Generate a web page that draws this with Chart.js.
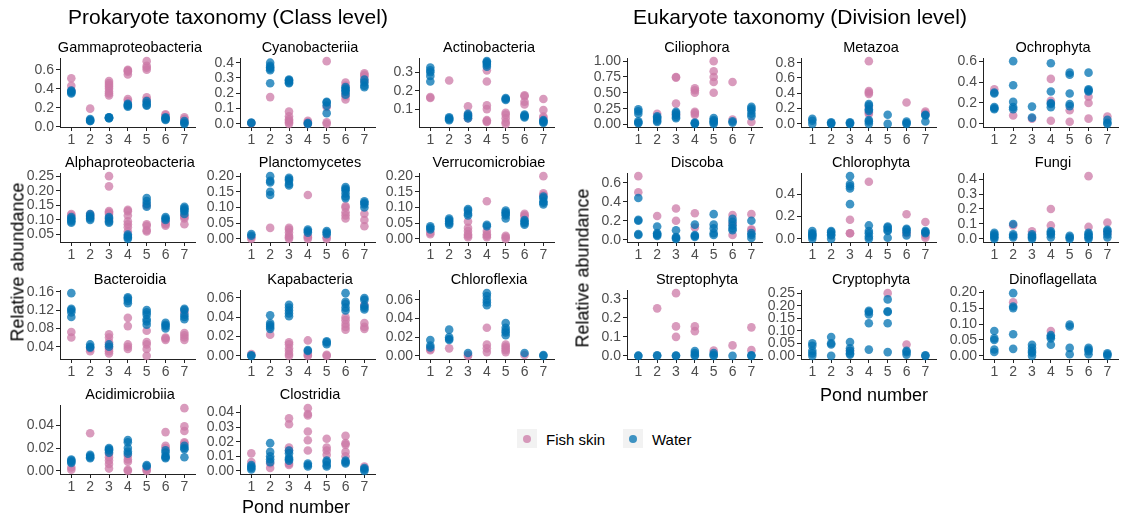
<!DOCTYPE html>
<html>
<head>
<meta charset="utf-8">
<script src="https://cdn.jsdelivr.net/npm/chart.js@4.4.1/dist/chart.umd.min.js"></script>
<style>
  body { margin: 0; background: #fff; width: 1123px; height: 518px; position: relative; overflow: hidden;
         font-family: 'Liberation Sans', Arial, sans-serif; }
  canvas { position: absolute; }
  .txt { position: absolute; white-space: nowrap; color: #000; transform: translate(-50%, -50%); }
  .key { position: absolute; width: 20px; height: 19px; background: #f2f2f2; }
  .key span { position: absolute; left: 6px; top: 6px; width: 8px; height: 8px; border-radius: 50%; }
</style>
</head>
<body>
<script>
const ponds = [1, 2, 3, 4, 5, 6, 7];

// ---- Prokaryotes (class level) ----
const gammaFish = [[0.51, 0.43, 0.38], [0.19], [0.48, 0.46, 0.44, 0.42, 0.40, 0.37, 0.35, 0.33], [0.60, 0.59, 0.58, 0.55, 0.29, 0.27], [0.69, 0.64, 0.62, 0.60, 0.31, 0.28], [0.13, 0.12], [0.10, 0.08, 0.05]];
const gammaWater = [[0.38, 0.37, 0.36, 0.35], [0.08, 0.07, 0.06, 0.06], [0.10, 0.09, 0.10, 0.09], [0.24, 0.22, 0.21, 0.23], [0.27, 0.25, 0.23, 0.22], [0.10, 0.09, 0.08, 0.07], [0.06, 0.04, 0.03]];
const gammaTicks = ['0.0', '0.2', '0.4', '0.6'];

const cyanoFish = [[0.005], [0.175], [0.08, 0.05, 0.03, 0.02, 0.01, 0.0], [0.02, 0.01, 0.0], [0.41, 0.11, 0.01, 0.0], [0.27, 0.25, 0.20, 0.18, 0.16], [0.33, 0.32, 0.31, 0.28]];
const cyanoWater = [[0.008, 0.006], [0.40, 0.38, 0.37, 0.36, 0.35, 0.265], [0.29, 0.285, 0.28, 0.27, 0.265], [0.005, 0.0], [0.145, 0.14, 0.12, 0.07], [0.24, 0.23, 0.22, 0.21, 0.19], [0.29, 0.27, 0.25, 0.24]];
const cyanoTicks = ['0.0', '0.1', '0.2', '0.3', '0.4'];

const actinoFish = [[0.165, 0.16], [0.255], [0.115, 0.07, 0.05], [0.31, 0.25, 0.12, 0.10, 0.04, 0.03, 0.035], [0.08, 0.07, 0.05, 0.03, 0.02], [0.175, 0.17, 0.14, 0.125], [0.155, 0.095, 0.06, 0.05]];
const actinoWater = [[0.325, 0.31, 0.30, 0.28, 0.25], [0.055, 0.05, 0.045, 0.04], [0.075, 0.065, 0.06, 0.05], [0.36, 0.355, 0.35, 0.34, 0.33], [0.16, 0.155, 0.15], [0.07, 0.065, 0.06, 0.055], [0.04, 0.035, 0.03, 0.025]];
const actinoTicks = ['0.1', '0.2', '0.3'];

const alphaFish = [[0.12, 0.115], [0.12, 0.11], [0.25, 0.215, 0.13, 0.125, 0.12, 0.10], [0.135, 0.13, 0.115, 0.095, 0.085, 0.075, 0.06], [0.15, 0.085, 0.08, 0.065, 0.06], [0.095, 0.09, 0.085, 0.08], [0.115, 0.11, 0.105, 0.085]];
const alphaWater = [[0.11, 0.105, 0.10, 0.095, 0.09], [0.12, 0.115, 0.11, 0.105, 0.10], [0.11, 0.105, 0.095, 0.09], [0.05, 0.045, 0.04, 0.035], [0.175, 0.165, 0.155, 0.145], [0.11, 0.105, 0.10], [0.145, 0.14, 0.135, 0.13, 0.12]];
const alphaTicks = ['0.05', '0.10', '0.15', '0.20', '0.25'];

const planctoFish = [[0.005, 0.0], [0.035], [0.035, 0.03, 0.02, 0.01, 0.005, 0.0], [0.14, 0.01, 0.005, 0.0], [0.005, 0.0], [0.105, 0.10, 0.085, 0.075, 0.065], [0.08, 0.06, 0.04]];
const planctoWater = [[0.015, 0.01], [0.20, 0.185, 0.18, 0.15, 0.14], [0.195, 0.19, 0.185, 0.175, 0.17], [0.03, 0.025, 0.02], [0.025, 0.02, 0.015], [0.165, 0.16, 0.155, 0.145, 0.135, 0.13], [0.12, 0.115, 0.11, 0.10]];
const planctoTicks = ['0.00', '0.05', '0.10', '0.15', '0.20'];

const verrucoFish = [[0.02, 0.015], [], [0.055, 0.035, 0.025, 0.015, 0.01, 0.005], [0.12, 0.025, 0.015, 0.01, 0.005], [0.01, 0.005, 0.0], [0.08, 0.075, 0.07], [0.20, 0.145, 0.14]];
const verrucoWater = [[0.04, 0.035, 0.03], [0.065, 0.06, 0.055, 0.05, 0.045], [0.095, 0.09, 0.08, 0.075], [0.045, 0.04], [0.09, 0.085, 0.08, 0.075, 0.065], [0.06, 0.055, 0.05, 0.045], [0.135, 0.13, 0.12, 0.115, 0.11]];
const verrucoTicks = ['0.00', '0.05', '0.10', '0.15', '0.20'];

const bacteroFish = [[0.072, 0.06], [0.035, 0.03], [0.067, 0.06, 0.05, 0.04, 0.035, 0.03, 0.025], [0.103, 0.085, 0.045, 0.04, 0.035], [0.075, 0.05, 0.045, 0.035, 0.02], [0.06, 0.058, 0.055], [0.115, 0.07, 0.065, 0.06, 0.055]];
const bacteroWater = [[0.157, 0.123, 0.12, 0.115, 0.105], [0.045, 0.04, 0.038], [0.045, 0.04], [0.148, 0.145, 0.14, 0.135], [0.12, 0.115, 0.11, 0.10, 0.095, 0.088], [0.092, 0.088, 0.085, 0.08], [0.123, 0.12, 0.11, 0.105, 0.10]];
const bacteroTicks = ['0.04', '0.08', '0.12', '0.16'];

const kapaFish = [[0.002], [0.022], [0.014, 0.012, 0.008, 0.005, 0.002, 0.0], [0.016, 0.003, 0.001, 0.0], [0.001, 0.0], [0.04, 0.037, 0.033, 0.03, 0.027], [0.053, 0.034, 0.03, 0.028]];
const kapaWater = [[0.0, 0.0005], [0.042, 0.034, 0.032, 0.03, 0.028], [0.053, 0.05, 0.047, 0.044, 0.041], [0.006, 0.005], [0.015, 0.014, 0.012], [0.065, 0.056, 0.054, 0.05, 0.047], [0.06, 0.058, 0.052, 0.05, 0.048]];
const kapaTicks = ['0.00', '0.02', '0.04', '0.06'];

const flexiaFish = [[0.007, 0.006], [0.008], [0.001, 0.0], [0.03, 0.012, 0.008, 0.004], [0.012, 0.01, 0.008, 0.006, 0.004], [0.001], []];
const flexiaWater = [[0.017, 0.011, 0.009], [0.028, 0.02, 0.018, 0.017], [0.003], [0.067, 0.064, 0.06, 0.057, 0.054], [0.035, 0.03, 0.027, 0.025, 0.022], [0.003], [0.001, 0.0]];
const flexiaTicks = ['0.00', '0.02', '0.04', '0.06'];

const acidiFish = [[0.003, 0.001], [0.033], [0.015, 0.012, 0.009, 0.006, 0.002], [0.013, 0.01, 0.008, 0.001, 0.0], [0.002, 0.001, 0.0], [0.034, 0.022, 0.02], [0.055, 0.039, 0.035, 0.025, 0.024]];
const acidiWater = [[0.01, 0.009, 0.008, 0.007], [0.014, 0.013, 0.012, 0.011], [0.02, 0.019, 0.018, 0.016], [0.027, 0.025, 0.02, 0.017, 0.015], [0.005, 0.004], [0.018, 0.016, 0.013, 0.012, 0.011], [0.022, 0.02, 0.019, 0.012]];
const acidiTicks = ['0.00', '0.02', '0.04'];

const clostFish = [[0.012, 0.006], [0.005, 0.002], [0.036, 0.032, 0.016, 0.014, 0.005, 0.004], [0.043, 0.039, 0.038, 0.027, 0.021, 0.014], [0.022, 0.016, 0.014, 0.011], [0.024, 0.019, 0.018, 0.013, 0.01], [0.003]];
const clostWater = [[0.004, 0.003, 0.002, 0.001], [0.019, 0.013, 0.01, 0.008, 0.006], [0.014, 0.012, 0.009, 0.008, 0.007], [0.005, 0.004, 0.003], [0.007, 0.006, 0.004, 0.003], [0.007, 0.006, 0.005], [0.002, 0.001, 0.0]];
const clostTicks = ['0.00', '0.01', '0.02', '0.03', '0.04'];

// ---- Eukaryotes (division level) ----
const cilioFish = [[], [0.17], [0.75, 0.74, 0.33, 0.16], [0.57, 0.54, 0.50, 0.20, 0.18, 0.15], [1.0, 0.84, 0.75, 0.67, 0.50], [0.67, 0.08], [0.04]];
const cilioWater = [[0.24, 0.21, 0.17, 0.05, 0.03, 0.02], [0.13, 0.11, 0.09, 0.06, 0.04], [0.20, 0.18, 0.15, 0.12, 0.10], [0.03, 0.02, 0.01], [0.10, 0.07, 0.05, 0.03, 0.01], [0.05, 0.03], [0.28, 0.25, 0.22, 0.17, 0.13]];
const cilioTicks = ['0.00', '0.25', '0.50', '0.75', '1.00'];

const metaFish = [[], [], [], [0.82, 0.43, 0.41, 0.39, 0.22, 0.15, 0.13], [], [0.28], [0.16, 0.14]];
const metaWater = [[0.065, 0.04, 0.0], [0.02, 0.01, 0.0], [0.02, 0.01, 0.0], [0.26, 0.24, 0.19, 0.17, 0.05, 0.03, 0.0], [0.12, 0.0], [0.03, 0.01, 0.0], [0.12, 0.11, 0.03]];
const metaTicks = ['0.0', '0.2', '0.4', '0.6', '0.8'];

const ochroFish = [[0.33], [0.08], [0.05], [0.43, 0.22, 0.03], [0.13, 0.02], [0.26, 0.20, 0.05], [0.07]];
const ochroWater = [[0.30, 0.29, 0.16, 0.15, 0.14], [0.60, 0.37, 0.21, 0.16, 0.14], [0.165, 0.06], [0.58, 0.31, 0.20, 0.19, 0.16], [0.49, 0.47, 0.29, 0.19, 0.17], [0.49, 0.33, 0.32, 0.31], [0.04, 0.01, 0.0]];
const ochroTicks = ['0.0', '0.2', '0.4', '0.6'];

const discoFish = [[0.67, 0.50], [0.25], [0.33, 0.20], [0.28, 0.13], [], [0.26, 0.17, 0.05], [0.27, 0.11, 0.10]];
const discoWater = [[0.44, 0.21, 0.20, 0.06, 0.05], [0.14, 0.07, 0.06, 0.05, 0.04], [0.10, 0.03, 0.02, 0.01], [0.16, 0.05, 0.04, 0.03], [0.27, 0.16, 0.12, 0.07, 0.05], [0.22, 0.19, 0.15, 0.12, 0.10], [0.20, 0.07, 0.05, 0.02]];
const discoTicks = ['0.0', '0.2', '0.4', '0.6'];

const chloroFish = [[], [], [0.17, 0.05, 0.05], [0.51], [], [0.22, 0.05], [0.15, 0.03, 0.01]];
const chloroWater = [[0.07, 0.05, 0.04, 0.03, 0.02, 0.0], [0.07, 0.06, 0.04, 0.03, 0.0], [0.56, 0.49, 0.47, 0.45, 0.31], [0.12, 0.07, 0.05, 0.02, 0.0], [0.11, 0.10, 0.08, 0.07, 0.01], [0.09, 0.08, 0.06, 0.03], [0.07, 0.06, 0.05]];
const chloroTicks = ['0.0', '0.2', '0.4'];

const fungiFish = [[], [0.09], [0.05], [0.20, 0.09], [], [0.42, 0.08], [0.11, 0.04]];
const fungiWater = [[0.04, 0.03, 0.02, 0.01, 0.0], [0.10, 0.03, 0.02, 0.01], [0.03, 0.02, 0.01, 0.0], [0.05, 0.04, 0.03, 0.01], [0.02, 0.01, 0.0], [0.04, 0.03, 0.02, 0.01, 0.0], [0.06, 0.05, 0.03, 0.01]];
const fungiTicks = ['0.0', '0.1', '0.2', '0.3', '0.4'];

const streptoFish = [[], [0.25], [0.33, 0.155, 0.10], [0.155, 0.13], [0.028], [0.055], [0.15, 0.03]];
const streptoWater = [[0.0, 0.001], [0.003, 0.0], [0.002, 0.0], [0.025, 0.015, 0.005, 0.0], [0.015, 0.005, 0.0], [0.0], [0.003, 0.0]];
const streptoTicks = ['0.0', '0.1', '0.2', '0.3'];

const cryptoFish = [[], [], [0.02], [], [0.25], [0.045], []];
const cryptoWater = [[0.05, 0.04, 0.02, 0.01, 0.0], [0.075, 0.05, 0.045, 0.0], [0.055, 0.03, 0.02, 0.01, 0.005], [0.18, 0.175, 0.165, 0.13, 0.025], [0.225, 0.178, 0.175, 0.13, 0.015], [0.02, 0.015, 0.005], [0.0, 0.002]];
const cryptoTicks = ['0.00', '0.05', '0.10', '0.15', '0.20', '0.25'];

const dinoFish = [[], [0.168], [], [0.078], [], [], []];
const dinoWater = [[0.078, 0.055, 0.05, 0.02, 0.012], [0.197, 0.155, 0.15, 0.068, 0.022], [0.035, 0.025, 0.015, 0.01, 0.0], [0.065, 0.06, 0.055, 0.035], [0.098, 0.092, 0.025, 0.005], [0.025, 0.02, 0.015, 0.005], [0.008, 0.004, 0.0]];
const dinoTicks = ['0.00', '0.05', '0.10', '0.15', '0.20'];

// layout (pixels)
const PLOT_W = 140, PLOT_H = 69, AXIS_W = 50, TOP_PAD = 20, XAXIS_H = 26;
const prokCols = [60, 240, 419];
const eukCols = [627, 801, 983];
const rows = [58, 173, 290, 405];

const FISH = 'rgba(204,121,167,0.75)';
const WATER = 'rgba(0,114,178,0.75)';
const AXIS_COL = '#222';
const FONT = "'Liberation Sans', Arial, sans-serif";

const panels = [
  ['Gammaproteobacteria', gammaFish, gammaWater, gammaTicks, prokCols[0], rows[0]],
  ['Cyanobacteriia', cyanoFish, cyanoWater, cyanoTicks, prokCols[1], rows[0]],
  ['Actinobacteria', actinoFish, actinoWater, actinoTicks, prokCols[2], rows[0]],
  ['Alphaproteobacteria', alphaFish, alphaWater, alphaTicks, prokCols[0], rows[1]],
  ['Planctomycetes', planctoFish, planctoWater, planctoTicks, prokCols[1], rows[1]],
  ['Verrucomicrobiae', verrucoFish, verrucoWater, verrucoTicks, prokCols[2], rows[1]],
  ['Bacteroidia', bacteroFish, bacteroWater, bacteroTicks, prokCols[0], rows[2]],
  ['Kapabacteria', kapaFish, kapaWater, kapaTicks, prokCols[1], rows[2]],
  ['Chloroflexia', flexiaFish, flexiaWater, flexiaTicks, prokCols[2], rows[2]],
  ['Acidimicrobiia', acidiFish, acidiWater, acidiTicks, prokCols[0], rows[3]],
  ['Clostridia', clostFish, clostWater, clostTicks, prokCols[1], rows[3]],
  ['Ciliophora', cilioFish, cilioWater, cilioTicks, eukCols[0], rows[0]],
  ['Metazoa', metaFish, metaWater, metaTicks, eukCols[1], rows[0]],
  ['Ochrophyta', ochroFish, ochroWater, ochroTicks, eukCols[2], rows[0]],
  ['Discoba', discoFish, discoWater, discoTicks, eukCols[0], rows[1]],
  ['Chlorophyta', chloroFish, chloroWater, chloroTicks, eukCols[1], rows[1]],
  ['Fungi', fungiFish, fungiWater, fungiTicks, eukCols[2], rows[1]],
  ['Streptophyta', streptoFish, streptoWater, streptoTicks, eukCols[0], rows[2]],
  ['Cryptophyta', cryptoFish, cryptoWater, cryptoTicks, eukCols[1], rows[2]],
  ['Dinoflagellata', dinoFish, dinoWater, dinoTicks, eukCols[2], rows[2]]
];

function addText(str, x, y, size, rotate) {
  const d = document.createElement('div');
  d.className = 'txt';
  d.textContent = str;
  d.style.left = x + 'px';
  d.style.top = y + 'px';
  d.style.fontSize = size + 'px';
  if (rotate) d.style.transform = 'translate(-50%, -50%) rotate(-90deg)';
  document.body.appendChild(d);
}

function toPoints(groups) {
  const pts = [];
  groups.forEach((vals, i) => vals.forEach(v => pts.push({ x: ponds[i], y: v })));
  return pts;
}

function makePanel([name, fish, water, ticks, left, top]) {
  const canvas = document.createElement('canvas');
  canvas.width = AXIS_W + PLOT_W;
  canvas.height = TOP_PAD + PLOT_H + XAXIS_H;
  canvas.style.left = (left - AXIS_W) + 'px';
  canvas.style.top = (top - TOP_PAD) + 'px';
  document.body.appendChild(canvas);

  addText(name, left + PLOT_W / 2, top - 11, 14.5);

  // ggplot style 5% expansion on the continuous axis
  const all = fish.flat().concat(water.flat());
  const lo = Math.min(...all), hi = Math.max(...all);
  const pad = (hi - lo) * 0.05;
  const tickVals = ticks.map(Number);

  const axisCommon = {
    grid: { display: true, drawOnChartArea: false, drawTicks: true, tickLength: 4, color: AXIS_COL, lineWidth: 1 },
    border: { display: true, color: AXIS_COL, width: 1 }
  };

  new Chart(canvas, {
    type: 'scatter',
    data: {
      datasets: [
        { label: 'Water', data: toPoints(water), backgroundColor: WATER, borderWidth: 0, pointRadius: 4.3, clip: false },
        { label: 'Fish skin', data: toPoints(fish), backgroundColor: FISH, borderWidth: 0, pointRadius: 4.3, clip: false }
      ]
    },
    options: {
      responsive: false,
      animation: false,
      events: [],
      layout: { padding: { top: TOP_PAD, left: 0, right: 0, bottom: 0 } },
      plugins: { legend: { display: false }, tooltip: { enabled: false } },
      scales: {
        x: {
          ...axisCommon,
          type: 'linear', min: 0.4, max: 7.6,
          afterBuildTicks: s => { s.ticks = ponds.map(v => ({ value: v })); },
          afterFit: s => { s.height = XAXIS_H; },
          ticks: { autoSkip: false, maxRotation: 0, padding: 1, color: '#4d4d4d',
                   font: { family: FONT, size: 14 }, callback: v => String(v) }
        },
        y: {
          ...axisCommon,
          type: 'linear', min: lo - pad, max: hi + pad,
          afterBuildTicks: s => { s.ticks = tickVals.map(v => ({ value: v })); },
          afterFit: s => { s.width = AXIS_W; },
          ticks: { autoSkip: false, padding: 2, color: '#4d4d4d',
                   font: { family: FONT, size: 14 }, callback: (v, i) => ticks[i] }
        }
      }
    }
  });
}

panels.forEach(makePanel);

// headings and axis titles
addText('Prokaryote taxonomy (Class level)', 228, 17, 21);
addText('Eukaryote taxonomy (Division level)', 800, 17, 21);
addText('Relative abundance', 18, 262, 18, true);
addText('Relative abundance', 583, 268, 18, true);
addText('Pond number', 296, 507, 18);
addText('Pond number', 874, 395, 18);

// legend
function addKey(x, y, color, label) {
  const k = document.createElement('div');
  k.className = 'key';
  k.style.left = x + 'px';
  k.style.top = y + 'px';
  const dot = document.createElement('span');
  dot.style.background = color;
  k.appendChild(dot);
  document.body.appendChild(k);
  const t = document.createElement('div');
  t.className = 'txt';
  t.style.transform = 'translate(0, -50%)';
  t.style.left = (x + 29) + 'px';
  t.style.top = (y + 10) + 'px';
  t.style.fontSize = '15px';
  t.textContent = label;
  document.body.appendChild(t);
}
addKey(517, 429, FISH, 'Fish skin');
addKey(623, 429, WATER, 'Water');
</script>
</body>
</html>
